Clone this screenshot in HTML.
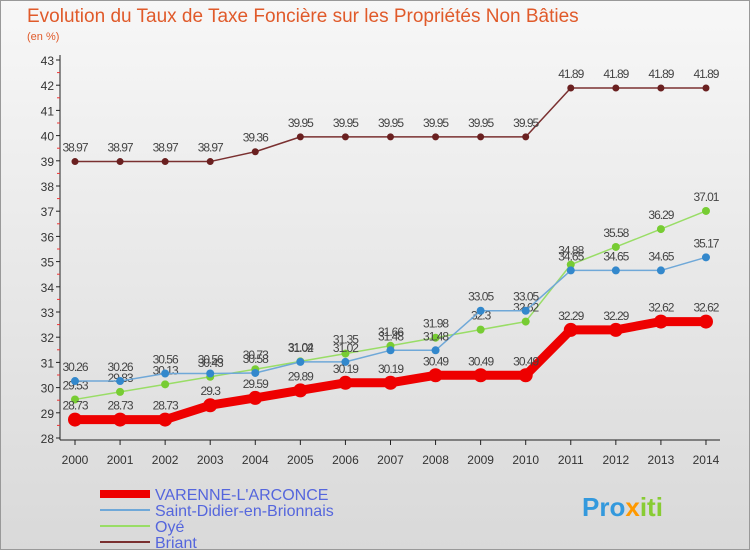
<!DOCTYPE html>
<html><head><meta charset="utf-8"><style>
body{margin:0;width:750px;height:550px;overflow:hidden;font-family:"Liberation Sans",sans-serif}
</style></head><body>
<svg id="c" width="750" height="550" xmlns="http://www.w3.org/2000/svg">
<defs><linearGradient id="bg" x1="0" y1="0" x2="0" y2="1"><stop offset="0" stop-color="#f7f7f7"/><stop offset="1" stop-color="#d9d9d9"/></linearGradient></defs>
<rect x="0.5" y="0.5" width="749" height="549" fill="url(#bg)" stroke="#999"/>
<text x="27" y="22" font-size="19" fill="#e05a2a">Evolution du Taux de Taxe Foncière sur les Propriétés Non Bâties</text>
<text x="27" y="40" font-size="11" fill="#e05a2a">(en %)</text>
<g id="axes"></g><g id="series"></g>
<g>
<line x1="100" y1="494" x2="150" y2="494" stroke="#ee0000" stroke-width="8"/>
<text x="155" y="500" font-size="16" fill="#5566dd">VARENNE-L'ARCONCE</text>
<line x1="100" y1="510" x2="150" y2="510" stroke="#6fa8d8" stroke-width="2"/>
<text x="155" y="516" font-size="16" fill="#5566dd">Saint-Didier-en-Brionnais</text>
<line x1="100" y1="526" x2="150" y2="526" stroke="#99dd66" stroke-width="2"/>
<text x="155" y="532" font-size="16" fill="#5566dd">Oyé</text>
<line x1="100" y1="542" x2="150" y2="542" stroke="#7a3030" stroke-width="2"/>
<text x="155" y="548" font-size="16" fill="#5566dd">Briant</text>
</g>
<text x="582" y="516" font-size="26" font-weight="bold" fill="#3399dd">Pro<tspan fill="#ff9900">x</tspan><tspan fill="#88cc33">iti</tspan></text>
</svg>
<script>
const years=[2000,2001,2002,2003,2004,2005,2006,2007,2008,2009,2010,2011,2012,2013,2014];
const varenne=[28.73,28.73,28.73,29.3,29.59,29.89,30.19,30.19,30.49,30.49,30.49,32.29,32.29,32.62,32.62];
const stDidier=[30.26,30.26,30.56,30.56,30.58,31.02,31.02,31.48,31.48,33.05,33.05,34.65,34.65,34.65,35.17];
const oye=[29.53,29.83,30.13,30.43,30.73,31.04,31.35,31.66,31.98,32.3,32.62,34.88,35.58,36.29,37.01];
const briant=[38.97,38.97,38.97,38.97,39.36,39.95,39.95,39.95,39.95,39.95,39.95,41.89,41.89,41.89,41.89];
const yTicks=[28,29,30,31,32,33,34,35,36,37,38,39,40,41,42,43];
const NS="http://www.w3.org/2000/svg";
const x=i=>75+i*45.07, y=v=>438-(v-28)*25.2;
function mk(t,a,p){const e=document.createElementNS(NS,t);for(const k in a)e.setAttribute(k,a[k]);p.appendChild(e);return e;}
const ax=document.getElementById('axes');
const yl=mk('line',{x1:60,y1:55,x2:60,y2:440,stroke:'#222'},ax);


const xl=mk('line',{x1:60,y1:440,x2:720,y2:440,stroke:'#222'},ax);


yTicks.forEach(v=>{
 mk('line',{x1:56,y1:y(v),x2:60,y2:y(v),stroke:'#222'},ax);
 if(v<43)mk('line',{x1:57,y1:y(v+0.5),x2:60,y2:y(v+0.5),stroke:'#e33'},ax);
 const t=mk('text',{x:54,y:y(v)+5,'font-size':12,'text-anchor':'end',fill:'#333'},ax);t.textContent=v;
 
 
});
years.forEach((yr,i)=>{
 mk('line',{x1:x(i),y1:440,x2:x(i),y2:445,stroke:'#222'},ax);
 const t=mk('text',{x:x(i),y:464,'font-size':12,'text-anchor':'middle',fill:'#333'},ax);t.textContent=yr;
 
 
});
const sg=document.getElementById('series');
function series(data,color,w,r,name,dot){
 const g=mk('g',{},sg);
 
 
 mk('polyline',{points:data.map((v,i)=>x(i)+','+y(v)).join(' '),fill:'none',stroke:color,'stroke-width':w,'stroke-linejoin':'round'},g);
 data.forEach((v,i)=>{
  const c=mk('circle',{cx:x(i),cy:y(v),r:r,fill:dot||color},g);
  
  
  const t=mk('text',{x:x(i),y:y(v)-10,'font-size':12,'text-anchor':'middle',fill:'#444','letter-spacing':'-1'},g);t.textContent=v;
  
  
 });
}
series(briant,'#7a3030',1.5,3.5,'series-briant','#6a2020');
series(oye,'#99dd66',1.5,4,'series-oye','#77cc33');
series(stDidier,'#6fa8d8',1.5,4,'series-saint-didier','#3388cc');
series(varenne,'#ee0000',9,7,'series-varenne');
</script>
</body></html>
